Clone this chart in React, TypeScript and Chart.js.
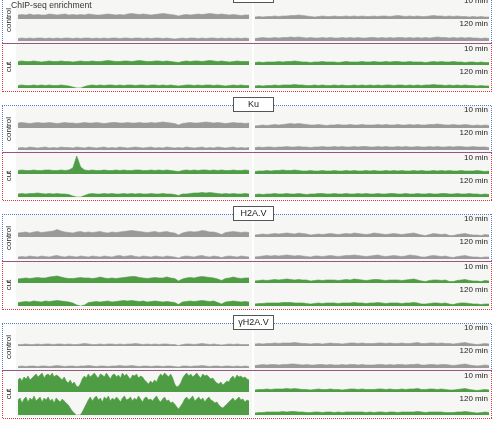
import React, { useEffect, useRef } from "react";
import { Chart, registerables } from "chart.js";

Chart.register(...registerables);

// ---------- data (signal height, 0..22 scale) ----------
// Panel 1 (title cut off at top)
const p1CtrlL10 = [4,4.5,4,5,4,4.5,4,4,5,4.5,4,4.5,5,4,4.5,4,4.5,4,5,4.5,4,4,4.5,5,4.5,4,4.5,4,5,5.5,5,4.5,5,4.5,4,4.5,5,5.5,5,4.5,4,3,4,4.5,4,4.5,5,4.5,5,5.5,5,4.5,5,4.5,4,4.5,4,3.5,4,4];
const p1CtrlL120 = [2.5,3,2.5,3,2.5,3,3,2.5,3,2.5,3,2.5,3,3,2.5,3,2.5,3,3,2.5,3,2.5,3,2.5,3,3,2.5,3,3,2.5,3,3,2.5,3,2.5,3,3,2.5,3,2.5,2,2.5,3,2.5,3,3,2.5,3,2.5,3,3,2.5,3,2.5,3,2.5,3,2.5,3,2.5];
const p1CutL10 = [3.5,4,3.5,3.5,4,3.5,3,3.5,4,3.5,3.5,4,3.5,3.5,3,3.5,4,3.5,3.5,4,3.5,3.5,4,4.5,4,3.5,3.5,4,4,3.5,4,4.5,4,3.5,3.5,4,4,3.5,4,3.5,3,2.5,3.5,4,3.5,4,4,3.5,4,4.5,4,3.5,4,3.5,3,3.5,4,3.5,3.5,3.5];
const p1CutL120 = [2.5,3,2.5,2.5,3,2.5,3,2.5,3,2.5,2.5,3,2.5,2,1,0,0,1.5,2.5,3,2.5,3,2.5,3,3,2.5,3,2.5,3,3,2.5,3,3,2.5,3,3,2.5,3,2.5,3,2.5,2,2.5,3,3,2.5,3,2.5,3,3,2.5,3,2.5,2,2.5,3,2.5,3,2.5,2.5];
const p1CtrlR10 = [2,2.5,2,2.5,2.5,3,2.5,3,3,3.5,3.5,4,3.5,3,2.5,2,2.5,3,2.5,2.5,3,2.5,2.5,3,2.5,3,2.5,3,2.5,2.5,3,2.5,3,3,2.5,3,3.5,3,2.5,3,2.5,3,2.5,2.5,3,3.5,3,3,2.5,3,2.5,3,2.5,2.5,2,2.5,2,2.5,2,2];
const p1CtrlR120 = [2.5,3,3.5,3,3,3.5,3,3.5,3.5,4,3.5,4,3.5,3,3.5,3,3,3.5,3,3.5,3,3,3.5,3,3.5,3,3.5,3,3,3.5,3.5,3,3.5,3,3.5,3,3.5,3.5,3,3.5,3,3.5,3,3.5,3,3.5,4,3.5,3.5,3,3.5,3,3.5,3,3.5,3,3,2.5,3,2.5];
const p1CutR10 = [2.5,3,2.5,3,3,3,3.5,3,3.5,3.5,4,3.5,3,3,2.5,3,3,3.5,3,3,3,2.5,3,3.5,3,3,3,3.5,3,3,3.5,3,3,3.5,3,3.5,3.5,3,3,3.5,3,3,3,2.5,3,3.5,3,3.5,3,3,3.5,3,3,2.5,3,3,2.5,3,2.5,2.5];
const p1CutR120 = [2,2.5,2,2.5,2.5,3,2.5,3,3,3,3.5,3,3,2.5,2.5,3,2.5,3,2.5,2.5,3,2.5,3,2.5,2.5,3,2.5,3,2.5,3,2.5,3,2.5,3,3,2.5,3,3,2.5,3,2.5,3,2.5,3,3,3.5,3,3,2.5,3,2.5,3,2.5,3,2.5,2.5,2,2.5,2,2];

// Panel 2: Ku
const p2CtrlL10 = [5,5.5,5,4.5,5,5.5,5,5,5.5,5,4.5,5,5.5,5,5,4.5,5,5.5,5,5,5.5,5,4.5,5,5.5,5.5,5,5,5.5,5,5,5.5,5,5,5.5,5,5.5,6,5.5,5,4.5,3,4.5,5,5.5,5,5,5.5,6,5.5,5,5.5,5,4.5,5,5.5,5,5,4.5,5];
const p2CtrlL120 = [2,2.5,2,3,2.5,2,2.5,3,2,2.5,2,3,2.5,2.5,2,3,2.5,2,3,2.5,2,2.5,3,2,2.5,2,3,2.5,2,2.5,3,2.5,2,2.5,3,2,2.5,2,3,2.5,2,2.5,2,3,2.5,2,2.5,3,2,2.5,2,3,2.5,2,2.5,3,2,2.5,2,2.5];
const p2CutL10 = [3.5,4,3.5,3.5,4,3.5,3.5,4,4,3.5,3.5,4,3.5,4,6,18,7,4,3.5,4,3.5,3.5,4,3.5,3.5,4,3.5,4,3.5,3.5,4,4,3.5,3.5,4,3.5,4,3.5,4,3.5,3,2.5,3.5,4,3.5,4,3.5,4,4,3.5,4,3.5,4,3.5,3.5,4,3.5,3.5,4,3.5];
const p2CutL120 = [3,3.5,3,3.5,3.5,4,3.5,3,3.5,3,3.5,3,3,2.5,1,0,0,1.5,3,3.5,3,3,3.5,3,3.5,3,3,3.5,3,3.5,3,3.5,3,3,3.5,3,3,3.5,3,3,2.5,1.5,3,3,3.5,4,4,4.5,4,4.5,4,3.5,3,3.5,3,3.5,3,3,3.5,3];
const p2CtrlR10 = [2,2.5,3,2.5,3,3.5,3,3.5,4,4.5,4,4.5,4,3.5,3,3,3.5,3,2.5,3,3,3.5,3,3,3.5,3,3,3.5,3,3,3,3.5,3,3.5,3,3,3.5,3,3,3.5,3,3.5,3,3,3.5,3.5,4,3.5,3,3,3.5,3,3,3.5,3,2.5,3,2.5,3,2.5];
const p2CtrlR120 = [2.5,3,2.5,3,3,2.5,3,3,3.5,3,3,3.5,3,3,2.5,3,3,3.5,3,3,3.5,3,3.5,3,3,3.5,3,3.5,3.5,3,3,3.5,3,3.5,3,3,3.5,3,3.5,3,3,3.5,3,3,3.5,3,3.5,3,3,3.5,3,3.5,3.5,3,3,3.5,3,3,3,2.5];
const p2CutR10 = [2.5,3,3,3.5,3,3.5,3.5,4,3.5,3.5,4,3.5,3,3,3.5,3,3,3.5,3,3,3.5,3,3,3.5,3,3.5,3,3,3.5,3,3.5,3,3,3.5,3,3.5,3,3.5,3,3,3.5,3,3.5,3,3,3.5,3,3.5,3,3.5,3,3,3.5,3,3,3,3.5,3,2.5,3];
const p2CutR120 = [2.5,3,2.5,3,3,3.5,3,3,3.5,3,3,3.5,3,2.5,3,3,3.5,3.5,3,3,3.5,3,3,3.5,3,3,3.5,3,3.5,3,3,3.5,3,3,3.5,3.5,3,3,3.5,3,3,3.5,3,3,3.5,3,3,3.5,3.5,3,3,3.5,3,3,3.5,3,3,2.5,3,2.5];

// Panel 3: H2A.V
const p3CtrlL10 = [4,4.5,5,4,5,5.5,4.5,5,5.5,6,7.5,6,5,4.5,4,5,5.5,4.5,5,4.5,5,5.5,4.5,4,5,4.5,5,5.5,6,6.5,6,5.5,5,4.5,5,5.5,4.5,5,5.5,4.5,4,2,4,5,5.5,5,5.5,6.5,6,5,5,4,2.5,4.5,5,5.5,5,4.5,5,4.5];
const p3CtrlL120 = [2,2.5,2,3,2.5,2,3,2.5,2,3,3.5,2.5,2,3,2.5,2,3,2.5,2,3,2.5,2,3,2.5,2,3,3.5,2.5,3,3.5,2.5,2,3,2.5,2,3,2.5,2,3,2.5,2,1,2.5,3,2.5,2,3,3.5,2.5,2,3,2.5,1.5,2.5,3,2.5,2,3,2.5,2];
const p3CutL10 = [4,4.5,5,4.5,5,5.5,5,5,6,6.5,7,6,5,4.5,4.5,5,5.5,5,5,4.5,5,6,5,4.5,5,4.5,5,5.5,6,6.5,6.5,5.5,5,4.5,5,5.5,5,5,6,5,4.5,2,4,5,5.5,5,6,6.5,6,5.5,5,4,2.5,4.5,5,6,5,4.5,5,5];
const p3CutL120 = [3.5,4,4.5,4,5,4.5,4,5,4.5,5,5.5,5,4.5,4,3,1,0,1,3.5,4,4.5,4,4.5,5,4,4.5,5,5.5,5,5.5,5,4.5,5,4,4.5,5,4.5,4,4.5,4,3.5,1.5,4,4.5,5,4.5,5,5.5,5,4.5,5,3.5,2,4,4.5,5,4.5,4,4.5,4];
const p3CtrlR10 = [2,2.5,3,2.5,3,3.5,3,3.5,4,3.5,3,4,3.5,3,2,2.5,3,2.5,3,3.5,3,2.5,3,3.5,3,4,3.5,3,2.5,3,4,3.5,3,2.5,3,3.5,3,2.5,3,3.5,4,3,2,1.5,2.5,3.5,3,2.5,3,1.5,1.5,2.5,3,3.5,2.5,2,2,1.5,2.5,2];
const p3CtrlR120 = [2,2.5,3,3.5,3,3.5,3,3.5,4,3.5,3,3.5,3,2.5,2,3,3,2.5,3,3.5,3,2.5,3,3.5,3.5,4,3.5,3,2.5,3,3.5,4,3,2.5,3,3.5,3,2.5,3,4,3.5,3,2,2,3,3.5,3,2.5,3,2,1.5,2.5,3,3.5,2.5,2,2,1.5,2,2];
const p3CutR10 = [2,2.5,3,2.5,3,3.5,3,3.5,4,3.5,3,3.5,3,3,2,2.5,3,2.5,3,3,3,2.5,3,3.5,3,4,3.5,3,2.5,3,3.5,3.5,3,2.5,3,3,3,2.5,3,3.5,4,3,2,1.5,2.5,3,3,2.5,3,1.5,1.5,2.5,3,3.5,2.5,2,2,1.5,2.5,2];
const p3CutR120 = [2,2.5,2.5,3,3,3,3,3.5,3.5,3.5,3,3,3,2.5,2,2.5,3,2.5,3,3,3,2.5,3,3,3,3.5,3,3,2.5,3,3,3.5,3,2.5,3,3,3,2.5,3,3,3.5,3,2,2,2.5,3,3,2.5,3,2,1.5,2.5,3,3,2.5,2,2,1.5,2,2];

// Panel 4: γH2A.V
const p4CtrlL10 = [1.5,1.5,2,1.5,1.5,2,1.5,2,2,1.5,2,2,1.5,2,1.5,1.5,2,2.5,2,1.5,1.5,2,1.5,2,2,1.5,2,1.5,2,2,2.5,2,1.5,2,1.5,2,1.5,2,2,1.5,1.5,0.5,1.5,2,2,1.5,2,2.5,2,1.5,2,1.5,1,1.5,2,1.5,2,1.5,1.5,1.5];
const p4CtrlL120 = [1.5,2,1.5,2,2,1.5,2,2,1.5,2,2.5,2,1.5,2,2,1.5,2,2,2.5,2,1.5,2,2,1.5,2,2,2.5,2,2,2.5,2,1.5,2,2,1.5,2,2,1.5,2,2,1.5,1,2,2,1.5,2,2,2.5,2,1.5,2,2,1.5,2,2,1.5,2,1.5,2,1.5];
const p4CutL10 = [12,14,11,15,13,16,12,14,16,18,15,17,19,14,17,18,16,19,15,17,16,14,12,15,11,9,12,8,10,6,5,8,13,16,14,18,15,17,19,16,14,18,17,15,19,16,13,17,18,15,17,14,19,16,18,15,13,17,16,18,14,16,15,12,10,8,11,9,12,10,15,18,16,19,17,15,18,14,8,5,6,9,14,17,19,16,18,15,17,19,16,14,18,16,17,15,13,14,11,9,8,10,7,9,11,10,14,16,13,17,15,16,14,15,13,12];
const p4CutL120 = [15,17,12,16,18,13,17,15,19,14,16,18,13,17,15,18,14,16,12,17,15,13,16,14,12,10,7,4,2,0,0,0,3,7,11,15,18,14,17,19,15,17,13,18,16,19,14,17,15,18,16,13,17,19,15,16,18,14,17,15,19,16,13,17,18,15,16,14,17,19,15,13,16,18,14,15,12,13,11,8,6,9,12,16,18,15,17,19,14,16,18,15,17,13,16,18,15,14,12,13,10,8,7,9,11,13,15,17,14,16,18,15,16,13,15,14];
const p4CtrlR10 = [2,2.5,2,2.5,2.5,3,2.5,3,3,3,3.5,3,2.5,2.5,2,2.5,2.5,2,2.5,3,2.5,2.5,2,2.5,3,3,2.5,3,2.5,2.5,2.5,3,3,2.5,3,2.5,2.5,3,2.5,2.5,3,3.5,2.5,2.5,3,3,2.5,3,2.5,2.5,2,2.5,3,3.5,2.5,2,1.5,2,2.5,2];
const p4CtrlR120 = [2.5,3,3.5,3,3.5,3.5,3,3.5,3.5,4,4,3.5,3,3.5,3,3,3.5,3.5,3,3.5,3,3,3.5,3,3.5,3.5,3,3.5,3,3,3,3.5,3.5,3,3.5,3,3.5,3.5,3,3.5,3.5,4,3,3,3.5,3.5,3,3.5,3.5,3,2.5,3,3.5,4,3,2.5,2,2.5,3,2.5];
const p4CutR10 = [2,2.5,2.5,3,2.5,3,3,3,3.5,3,3.5,3,2.5,2.5,2,2.5,3,2.5,2.5,3,2.5,2.5,2,2.5,3,3,2.5,3,2.5,2.5,2.5,3,3,2.5,3,2.5,2.5,3,2.5,3,3,3.5,2.5,2.5,3,3,2.5,3,2.5,2,2,2.5,3,3.5,2.5,2,1.5,2,2.5,2];
const p4CutR120 = [2,2.5,2.5,3,3,3,3,3.5,3,3.5,3.5,3,3,2.5,2.5,3,3,2.5,3,3,2.5,3,2.5,3,3,3,3,3,2.5,3,2.5,3,3,2.5,3,3,2.5,3,3,3,3,3.5,3,2.5,3,3,3,3,2.5,2.5,2.5,3,3,3.5,3,2.5,2,2.5,3,2.5];

const panelTitles = ["", "Ku", "H2A.V", "γH2A.V"];
const timeLabels = ["10 min", "120 min", "10 min", "120 min"];
const groupLabels = ["control", "cut"];

const panelTracks = [
  { left: [p1CtrlL10, p1CtrlL120, p1CutL10, p1CutL120], right: [p1CtrlR10, p1CtrlR120, p1CutR10, p1CutR120] },
  { left: [p2CtrlL10, p2CtrlL120, p2CutL10, p2CutL120], right: [p2CtrlR10, p2CtrlR120, p2CutR10, p2CutR120] },
  { left: [p3CtrlL10, p3CtrlL120, p3CutL10, p3CutL120], right: [p3CtrlR10, p3CtrlR120, p3CutR10, p3CutR120] },
  { left: [p4CtrlL10, p4CtrlL120, p4CutL10, p4CutL120], right: [p4CtrlR10, p4CtrlR120, p4CutR10, p4CutR120] },
];

// ---------- layout ----------
const PANEL_TOPS = [-4, 105, 214, 323];
const ROW_BASE = [23, 45, 69, 92];
const LABEL_CY = [5, 28, 53, 76];
const TRACK_H = 22;
const Y_MAX = 22;
const LEFT_X = 18, LEFT_W = 231;
const RIGHT_X = 255, RIGHT_W = 234;
const GRAY = "#9a9a9a";
const GREEN = "#4e9c44";
const BLUE_DOT = "#5078d2";
const RED_DOT = "#e03434";
const BG = "#f6f6f4";
const FONT = '"Liberation Sans", Arial, Helvetica, sans-serif';

function Track({ values, color, left, top, width, height }: { values: number[]; color: string; left: number; top: number; width: number; height: number }) {
  const ref = useRef<HTMLCanvasElement>(null);
  useEffect(() => {
    const chart = new Chart(ref.current as HTMLCanvasElement, {
      type: "line",
      data: {
        labels: values.map((_, i) => i),
        datasets: [
          {
            data: values,
            borderColor: color,
            backgroundColor: color,
            borderWidth: 0.6,
            pointRadius: 0,
            fill: "origin",
            tension: 0,
          },
        ],
      },
      options: {
        animation: false,
        responsive: false,
        maintainAspectRatio: false,
        events: [],
        layout: { padding: 0 },
        plugins: { legend: { display: false }, tooltip: { enabled: false } },
        scales: {
          x: { display: false, offset: false },
          y: { display: false, min: 0, max: Y_MAX },
        },
      },
    });
    return () => chart.destroy();
  }, [values, color]);
  return <canvas ref={ref} width={width} height={height} style={{ position: "absolute", left, top, width, height, zIndex: 2 }} />;
}

// dotted frames (decoration) drawn pixel by pixel on an overlay canvas
function Frames() {
  const ref = useRef<HTMLCanvasElement>(null);
  useEffect(() => {
    const ctx = (ref.current as HTMLCanvasElement).getContext("2d") as CanvasRenderingContext2D;
    ctx.clearRect(0, 0, 500, 427);
    const box = (x0: number, y0: number, x1: number, y1: number, color: string, phase: number) => {
      ctx.fillStyle = color;
      for (let x = x0; x <= x1; x++) {
        if ((x + phase) % 2 === 0) {
          ctx.fillRect(x, y0, 1, 1);
          ctx.fillRect(x, y1, 1, 1);
        }
      }
      for (let y = y0; y <= y1; y++) {
        if ((y + phase + 100) % 2 === 0) {
          ctx.fillRect(x0, y, 1, 1);
          ctx.fillRect(x1, y, 1, 1);
        }
      }
    };
    PANEL_TOPS.forEach((T) => {
      box(2, T, 491, T + 47, BLUE_DOT, 0);
      box(2, T + 47, 491, T + 95, RED_DOT, 1);
    });
  }, []);
  return <canvas ref={ref} width={500} height={427} style={{ position: "absolute", left: 0, top: 0, width: 500, height: 427, zIndex: 3, pointerEvents: "none" }} />;
}

export default function App() {
  const els: React.ReactNode[] = [];
  PANEL_TOPS.forEach((T, p) => {
    els.push(<div key={`bgl${p}`} style={{ position: "absolute", left: 16, top: T + 1, width: 236, height: 93, background: BG, zIndex: 1 }} />);
    els.push(<div key={`bgr${p}`} style={{ position: "absolute", left: 254, top: T + 1, width: 236, height: 93, background: BG, zIndex: 1 }} />);
    for (let r = 0; r < 4; r++) {
      const color = r < 2 ? GRAY : GREEN;
      const top = T + ROW_BASE[r] - TRACK_H;
      els.push(<Track key={`l${p}${r}`} values={panelTracks[p].left[r]} color={color} left={LEFT_X} top={top} width={LEFT_W} height={TRACK_H} />);
      els.push(<Track key={`r${p}${r}`} values={panelTracks[p].right[r]} color={color} left={RIGHT_X} top={top} width={RIGHT_W} height={TRACK_H} />);
      els.push(
        <div key={`t${p}${r}`} style={{ position: "absolute", left: 400, width: 88, top: T + LABEL_CY[r] - 5, height: 10, lineHeight: "10px", fontSize: 8, textAlign: "right", color: "#1a1a1a", zIndex: 4, whiteSpace: "nowrap" }}>
          {timeLabels[r]}
        </div>
      );
    }
    [T + 23.5, T + 71].forEach((cy, g) => {
      els.push(
        <div key={`g${p}${g}`} style={{ position: "absolute", left: 8.5, top: cy, transform: "translate(-50%, -50%) rotate(-90deg)", fontSize: 8, lineHeight: "10px", color: "#1a1a1a", whiteSpace: "nowrap", zIndex: 4 }}>
          {groupLabels[g]}
        </div>
      );
    });
    els.push(
      <div key={`tt${p}`} style={{ position: "absolute", left: 233, top: T - 8, width: 41, height: 15, boxSizing: "border-box", border: "1px solid #555", background: "#fff", fontSize: 9, lineHeight: "13px", textAlign: "center", color: "#1a1a1a", zIndex: 5, whiteSpace: "nowrap" }}>
        {panelTitles[p]}
      </div>
    );
  });
  return (
    <div style={{ position: "absolute", left: 0, top: 0, width: 500, height: 427, overflow: "hidden", background: "#fff", fontFamily: FONT }}>
      <div style={{ position: "absolute", left: 11, top: 0, height: 10, lineHeight: "10px", fontSize: 8.6, color: "#333", zIndex: 4, whiteSpace: "nowrap" }}>ChIP-seq enrichment</div>
      <Frames />
      {els}
    </div>
  );
}
